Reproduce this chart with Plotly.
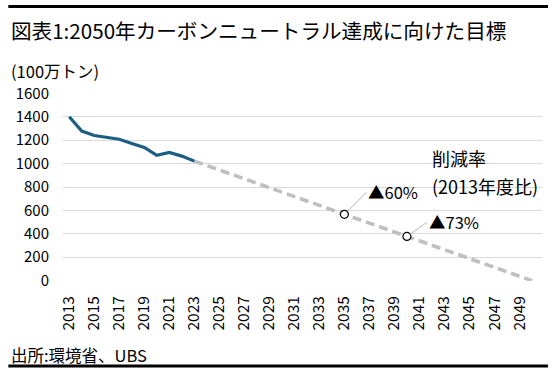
import plotly.graph_objects as go

# ---- data ----
years_actual = [2013, 2014, 2015, 2016, 2017, 2018, 2019, 2020, 2021, 2022, 2023]
emissions_actual = [1400, 1278, 1240, 1222, 1208, 1172, 1138, 1070, 1095, 1064, 1021]
years_target = [2023, 2035, 2040, 2050]
emissions_target = [1021, 567, 378, 0]
marker_years = [2035, 2040]
marker_values = [567, 378]
marker_labels = ["▲60%", "▲73%"]
x_tick_years = list(range(2013, 2050, 2))
y_ticks = [0, 200, 400, 600, 800, 1000, 1200, 1400, 1600]

title_text = "図表1:2050年カーボンニュートラル達成に向けた目標"
unit_text = "(100万トン)"
source_text = "出所:環境省、UBS"
note_lines = ["削減率", "(2013年度比)"]

FONT = "Noto Sans CJK JP, Noto Sans, sans-serif"
W, H = 556, 377
L, R, T, B = 62.7, 14, 93, 96
pw, ph = W - L - R, H - T - B

def px(x):
    return (x - L) / pw

def py(y):
    return (H - B - y) / ph

fig = go.Figure()
fig.add_trace(go.Scatter(
    x=years_target, y=emissions_target, mode="lines",
    line=dict(color="#BFBFBF", width=3.6, dash="9px,5px"),
    hoverinfo="skip", showlegend=False))
fig.add_trace(go.Scatter(
    x=years_actual, y=emissions_actual, mode="lines",
    line=dict(color="#1B5E83", width=3.2),
    showlegend=False))
fig.add_trace(go.Scatter(
    x=marker_years, y=marker_values, mode="markers",
    marker=dict(symbol="circle", size=8, color="white",
                line=dict(color="black", width=1.2)),
    showlegend=False))

annotations = []
for xv, yv, lab, (axo, ayo) in zip(marker_years, marker_values, marker_labels,
                                   [(22, -22), (20, -14)]):
    annotations.append(dict(
        x=xv, y=yv, xref="x", yref="y", text=lab, showarrow=True,
        arrowhead=0, arrowwidth=0.8, arrowcolor="#A6A6A6",
        ax=axo, ay=ayo, xanchor="left", yanchor="middle",
        standoff=4, font=dict(family=FONT, size=16.5, color="black")))

annotations += [
    dict(x=px(9), y=py(30), xref="paper", yref="paper", text=title_text,
         showarrow=False, xanchor="left", yanchor="middle",
         font=dict(family=FONT, size=20.6, color="black")),
    dict(x=px(9), y=py(71), xref="paper", yref="paper", text=unit_text,
         showarrow=False, xanchor="left", yanchor="middle",
         font=dict(family=FONT, size=16.5, color="black")),
    dict(x=px(9), y=py(355), xref="paper", yref="paper", text=source_text,
         showarrow=False, xanchor="left", yanchor="middle",
         font=dict(family=FONT, size=16.5, color="black")),
    dict(x=px(430), y=py(158), xref="paper", yref="paper", text=note_lines[0],
         showarrow=False, xanchor="left", yanchor="middle",
         font=dict(family=FONT, size=18, color="black")),
    dict(x=px(430), y=py(186), xref="paper", yref="paper", text=note_lines[1],
         showarrow=False, xanchor="left", yanchor="middle",
         font=dict(family=FONT, size=18, color="black")),
]

shapes = [
    dict(type="line", xref="paper", yref="paper", x0=px(8), x1=px(548),
         y0=py(6.5), y1=py(6.5), line=dict(color="black", width=3)),
    dict(type="line", xref="paper", yref="paper", x0=px(8), x1=px(548),
         y0=py(366), y1=py(366), line=dict(color="black", width=3)),
]

fig.update_layout(
    width=W, height=H,
    margin=dict(l=L, r=R, t=T, b=B, autoexpand=False),
    paper_bgcolor="white", plot_bgcolor="white",
    font=dict(family=FONT, size=15, color="black"),
    annotations=annotations, shapes=shapes,
    xaxis=dict(range=[2012.5, 2050.8], tickmode="array", tickvals=x_tick_years,
               ticktext=[str(v) for v in x_tick_years], tickangle=-90,
               showgrid=False, zeroline=False, showline=False, ticks="",
               automargin=False, ticklabelstandoff=11,
               tickfont=dict(family=FONT, size=15.5, color="black")),
    yaxis=dict(range=[-3, 1603], tickmode="array", tickvals=y_ticks,
               showgrid=True, gridcolor="#D9D9D9", gridwidth=1.2,
               zeroline=False, showline=False, ticks="", ticklen=0,
               automargin=False, ticklabelstandoff=13,
               tickfont=dict(family=FONT, size=15, color="black")),
)

fig.write_html("out.html", config={"displayModeBar": False})

# remove the browser's default page margin so the chart sits at (0, 0)
with open("out.html", "r", encoding="utf-8") as f:
    html = f.read()
html = html.replace("<body>", '<body style="margin:0;padding:0;overflow:hidden">', 1)
with open("out.html", "w", encoding="utf-8") as f:
    f.write(html)
